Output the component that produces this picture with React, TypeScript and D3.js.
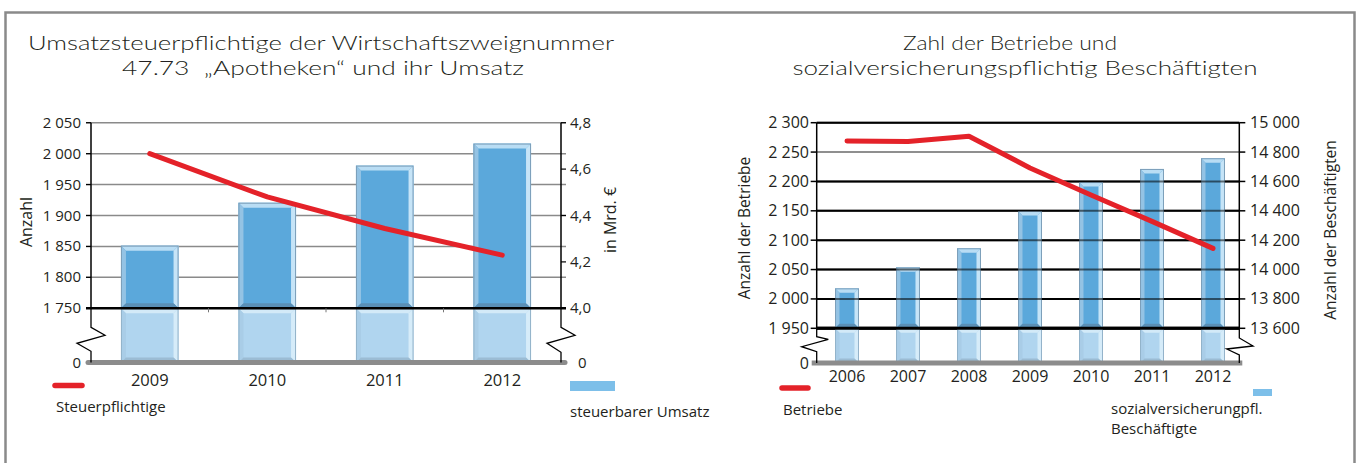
import React from "react";
import * as d3 from "d3";

// ---------- data ----------
const yearsL = ["2009", "2010", "2011", "2012"];
const steuerpflichtige = [2000, 1930, 1879, 1836];
const umsatzMrd = [4.27, 4.455, 4.615, 4.71];
const ticksAnzahl = [1750, 1800, 1850, 1900, 1950, 2000, 2050];
const ticksMrd = [4.0, 4.2, 4.4, 4.6, 4.8];

const yearsR = ["2006", "2007", "2008", "2009", "2010", "2011", "2012"];
const betriebe = [2269, 2268, 2277, 2223, 2177, 2132, 2086];
const beschaeftigte = [13872, 14015, 14145, 14399, 14596, 14685, 14758];
const ticksBetriebe = [1950, 2000, 2050, 2100, 2150, 2200, 2250, 2300];
const ticksBesch = [13600, 13800, 14000, 14200, 14400, 14600, 14800, 15000];

const titleL = ["Umsatzsteuerpflichtige der Wirtschaftszweignummer", "47.73  \u201EApotheken\u201C und ihr Umsatz"];
const titleR = ["Zahl der Betriebe und", "sozialversicherungspflichtig Besch\u00E4ftigten"];

// ---------- formatting ----------
const de = d3.formatLocale({ decimal: ",", thousands: " ", grouping: [3], currency: ["", " \u20AC"] });
const fmtInt = de.format(",d");
const fmtDec = de.format(".1f");

const FONT = "'Open Sans', 'DejaVu Sans', sans-serif";
const TFONT = "Lato, 'Open Sans', sans-serif";
const TXT = "#231f20";
const RED = "#e42229";

type BevelColors = { face: string; top: string; left: string; right: string; bottom: string; edge: string };
const upperCol: BevelColors = { face: "#5ba8db", top: "#b9ddf4", left: "#94c3e4", right: "#c6e4f7", bottom: "#5a8fb6", edge: "#7c9fba" };
const lowerCol: BevelColors = { face: "#b0d5ef", top: "#d3eaf8", left: "#a9cde7", right: "#d6ecf9", bottom: "#9bbcd4", edge: "#93b3ca" };

function Bevel({ x0, x1, y0, y1, b, c }: { x0: number; x1: number; y0: number; y1: number; b: number; c: BevelColors }) {
  const p = (pts: number[][]) => pts.map((q) => q.join(",")).join(" ");
  const bb = Math.min(b, (y1 - y0) / 2);
  return (
    <g>
      <rect x={x0} y={y0} width={x1 - x0} height={y1 - y0} fill={c.face} />
      <polygon points={p([[x0, y0], [x1, y0], [x1 - b, y0 + bb], [x0 + b, y0 + bb]])} fill={c.top} />
      <polygon points={p([[x0, y0], [x0 + b, y0 + bb], [x0 + b, y1 - bb], [x0, y1]])} fill={c.left} />
      <polygon points={p([[x1, y0], [x1, y1], [x1 - b, y1 - bb], [x1 - b, y0 + bb]])} fill={c.right} />
      <polygon points={p([[x0, y1], [x1, y1], [x1 - b, y1 - bb], [x0 + b, y1 - bb]])} fill={c.bottom} />
      <rect x={x0 + 0.5} y={y0 + 0.5} width={x1 - x0 - 1} height={y1 - y0 - 1} fill="none" stroke={c.edge} strokeWidth={1} />
    </g>
  );
}

// axis segment with break symbol; offsets below the break line
function zigzag(ax: number, yBreak: number, yZero: number, o: number[], w: number[]) {
  const pts: [number, number][] = [
    [ax, yBreak],
    [ax, yBreak + o[0]],
    [ax + w[0], yBreak + o[1]],
    [ax - w[1], yBreak + o[2]],
    [ax, yBreak + o[3]],
    [ax, yZero],
  ];
  return d3.line()(pts) as string;
}

function LeftChart() {
  const top = 122.7, brk = 308.3, zero = 362.5;
  const x0 = 91, x1 = 561;
  const x = d3.scaleBand<string>().domain(yearsL).range([x0, x1]).paddingInner(0.51).paddingOuter(0.255);
  const yA = d3.scaleLinear().domain([1750, 2050]).range([brk, top]);
  const yM = d3.scaleLinear().domain([4.0, 4.8]).range([brk, top]);
  const line = d3.line<number>().x((_, i) => x(yearsL[i])! + x.bandwidth() / 2).y((d) => yA(d));
  return (
    <g>
      {titleL.map((t, i) => (
        <text key={t} x={i === 0 ? 321 : 323} y={i === 0 ? 50 : 75} textAnchor="middle" fontSize={20} fill={TXT} fontFamily={TFONT}
          fontWeight={300} style={{ whiteSpace: "pre" }}
          textLength={i === 0 ? 586 : 402} lengthAdjust="spacingAndGlyphs">{t}</text>
      ))}
      {ticksAnzahl.filter((t) => t > 1750).map((t) => (
        <line key={t} x1={x0 - 5} x2={x1 + 5} y1={yA(t)} y2={yA(t)} stroke="#8a8a8a" strokeWidth={1.5} />
      ))}
      {yearsL.map((yr, i) => {
        const bx0 = x(yr)!, bx1 = bx0 + x.bandwidth();
        return (
          <g key={yr}>
            <Bevel x0={bx0} x1={bx1} y0={yM(umsatzMrd[i])} y1={brk} b={5} c={upperCol} />
            <Bevel x0={bx0} x1={bx1} y0={brk} y1={zero} b={5} c={lowerCol} />
          </g>
        );
      })}
      <line x1={x0 - 5} x2={x1 + 5} y1={brk} y2={brk} stroke="#000" strokeWidth={2.5} />
      {yearsL.slice(1).map((yr) => (
        <line key={yr} x1={x(yr)! - (x.step() - x.bandwidth()) / 2} x2={x(yr)! - (x.step() - x.bandwidth()) / 2} y1={brk} y2={brk + 4} stroke="#777" strokeWidth={1} />
      ))}
      <line x1={x0 - 3} x2={x1 + 4} y1={zero} y2={zero} stroke="#8c8c8c" strokeWidth={5} strokeLinecap="round" />
      <line x1={x0} x2={x0} y1={top} y2={brk} stroke="#000" strokeWidth={1.5} />
      <path d={zigzag(x0, brk, zero, [19, 27, 35, 43], [14, 14])} fill="none" stroke="#000" strokeWidth={1.3} />
      <line x1={x1} x2={x1} y1={top} y2={brk} stroke="#000" strokeWidth={1.5} />
      <path d={zigzag(x1, brk, zero, [19, 27, 35, 44], [14, 14])} fill="none" stroke="#000" strokeWidth={1.3} />
      {ticksAnzahl.map((t) => (
        <g key={t}>
          <line x1={x0 - 5} x2={x0} y1={yA(t)} y2={yA(t)} stroke="#000" strokeWidth={1.2} />
          <text x={81} y={yA(t) + 5} textAnchor="end" fontSize={15} fill={TXT}>{fmtInt(t)}</text>
        </g>
      ))}
      <text x={81} y={zero + 5} textAnchor="end" fontSize={15} fill={TXT}>0</text>
      {ticksMrd.map((t) => (
        <g key={t}>
          <line x1={x1} x2={x1 + 5} y1={yM(t)} y2={yM(t)} stroke="#000" strokeWidth={1.2} />
          <text x={570} y={yM(t) + 5} fontSize={15} fill={TXT}>{fmtDec(t)}</text>
        </g>
      ))}
      <text x={578} y={zero + 5} fontSize={15} fill={TXT}>0</text>
      <text transform={`translate(32,222) rotate(-90)`} textAnchor="middle" fontSize={16} fill={TXT}>Anzahl</text>
      <text transform={`translate(616,220) rotate(-90)`} textAnchor="middle" fontSize={16} fill={TXT}>in Mrd. €</text>
      {yearsL.map((yr) => (
        <text key={yr} x={x(yr)! + x.bandwidth() / 2} y={386} textAnchor="middle" fontSize={16.5} fill={TXT}>{yr}</text>
      ))}
      <path d={line(steuerpflichtige) as string} fill="none" stroke={RED} strokeWidth={5} strokeLinecap="round" strokeLinejoin="round" />
      <line x1={55} x2={82} y1={385.5} y2={385.5} stroke={RED} strokeWidth={5.5} strokeLinecap="round" />
      <text x={56} y={412} fontSize={15} fill={TXT}>Steuerpflichtige</text>
      <rect x={570} y={381} width={45} height={10} fill="#7dbfe9" />
      <text x={570} y={417} fontSize={15} fill={TXT}>steuerbarer Umsatz</text>
    </g>
  );
}

function RightChart() {
  const top = 122.7, brk = 328.3, zero = 363;
  const x0 = 816.7, x1 = 1239.3;
  const x = d3.scaleBand<string>().domain(yearsR).range([816.5, 1243.5]).paddingInner(0.607).paddingOuter(0.3035);
  const yB = d3.scaleLinear().domain([1950, 2300]).range([brk, top]);
  const yE = d3.scaleLinear().domain([13600, 15000]).range([brk, top]);
  const line = d3.line<number>().x((_, i) => x(yearsR[i])! + x.bandwidth() / 2).y((d) => yB(d));
  const gridStroke = (t: number) => (t === 2250 ? "#8f8f8f" : "#000");
  const gridW = (t: number) => (t === 1950 ? 3 : 2);
  return (
    <g>
      {titleR.map((t, i) => (
        <text key={t} x={i === 0 ? 1010 : 1025} y={i === 0 ? 50 : 75} textAnchor="middle" fontSize={20} fill={TXT} fontFamily={TFONT}
          fontWeight={300} textLength={i === 0 ? 214 : 465} lengthAdjust="spacingAndGlyphs">{t}</text>
      ))}
      {ticksBetriebe.map((t) => (
        <line key={t} x1={x0} x2={x1} y1={yB(t)} y2={yB(t)} stroke={gridStroke(t)} strokeWidth={gridW(t)} />
      ))}
      {yearsR.map((yr, i) => {
        const bx0 = x(yr)!, bx1 = bx0 + x.bandwidth();
        return (
          <g key={yr}>
            <Bevel x0={bx0} x1={bx1} y0={yE(beschaeftigte[i])} y1={brk} b={4.5} c={upperCol} />
            <Bevel x0={bx0} x1={bx1} y0={brk} y1={zero} b={4.5} c={lowerCol} />
          </g>
        );
      })}
      {ticksBetriebe.map((t) => (
        <line key={"o" + t} x1={x0} x2={x1} y1={yB(t)} y2={yB(t)} stroke={gridStroke(t)} strokeWidth={gridW(t)} strokeOpacity={t === 1950 ? 1 : 0.55} />
      ))}
      <line x1={x0 - 5} x2={x1 + 3} y1={zero} y2={zero} stroke="#8c8c8c" strokeWidth={5} />
      <line x1={x0} x2={x0} y1={top} y2={brk} stroke="#000" strokeWidth={1.5} />
      <path d={zigzag(x0, brk, zero, [8.4, 11, 18.4, 23.4], [11.6, 15])} fill="none" stroke="#000" strokeWidth={1.3} />
      <line x1={x1} x2={x1} y1={top} y2={brk} stroke="#000" strokeWidth={1.5} />
      <path d={zigzag(x1, brk, zero, [9.7, 17.7, 20.7, 26.7], [13.7, 12.6])} fill="none" stroke="#000" strokeWidth={1.3} />
      {ticksBetriebe.map((t) => (
        <g key={t}>
          <line x1={x0 - 6} x2={x0} y1={yB(t)} y2={yB(t)} stroke="#000" strokeWidth={1.5} />
          <text x={809} y={yB(t) + 5.5} textAnchor="end" fontSize={16} fill={TXT}>{fmtInt(t)}</text>
        </g>
      ))}
      <text x={809} y={zero + 5.5} textAnchor="end" fontSize={16} fill={TXT}>0</text>
      {ticksBesch.map((t) => (
        <g key={t}>
          <line x1={x1} x2={x1 + 6} y1={yE(t)} y2={yE(t)} stroke="#000" strokeWidth={1.5} />
          <text x={1250} y={yE(t) + 5.5} fontSize={16} fill={TXT}>{fmtInt(t)}</text>
        </g>
      ))}
      <text transform={`translate(750,228) rotate(-90)`} textAnchor="middle" fontSize={15.5} fill={TXT}>Anzahl der Betriebe</text>
      <text transform={`translate(1336,230) rotate(-90)`} textAnchor="middle" fontSize={15.5} fill={TXT}>Anzahl der Beschäftigten</text>
      {yearsR.map((yr) => (
        <text key={yr} x={x(yr)! + x.bandwidth() / 2} y={382} textAnchor="middle" fontSize={16} fill={TXT}>{yr}</text>
      ))}
      <path d={line(betriebe) as string} fill="none" stroke={RED} strokeWidth={5} strokeLinecap="round" strokeLinejoin="round" />
      <line x1={782} x2={808} y1={388} y2={388} stroke={RED} strokeWidth={5.5} strokeLinecap="round" />
      <text x={783} y={415} fontSize={15} fill={TXT}>Betriebe</text>
      <rect x={1253} y={389} width={19} height={7} fill="#7dbfe9" />
      <text x={1111} y={414} fontSize={15} fill={TXT}>sozialversicherungpfl.</text>
      <text x={1111} y={434} fontSize={15} fill={TXT}>Beschäftigte</text>
    </g>
  );
}

export default function App() {
  return (
    <svg width={1363} height={463} style={{ position: "absolute", left: 0, top: 0, background: "#fff" }} fontFamily={FONT}>
      <rect x={0} y={0} width={1363} height={463} fill="#fff" />
      <rect x={5.5} y={12.5} width={1349} height={470} fill="none" stroke="#8a8a8a" strokeWidth={2.5} />
      <LeftChart />
      <RightChart />
    </svg>
  );
}
